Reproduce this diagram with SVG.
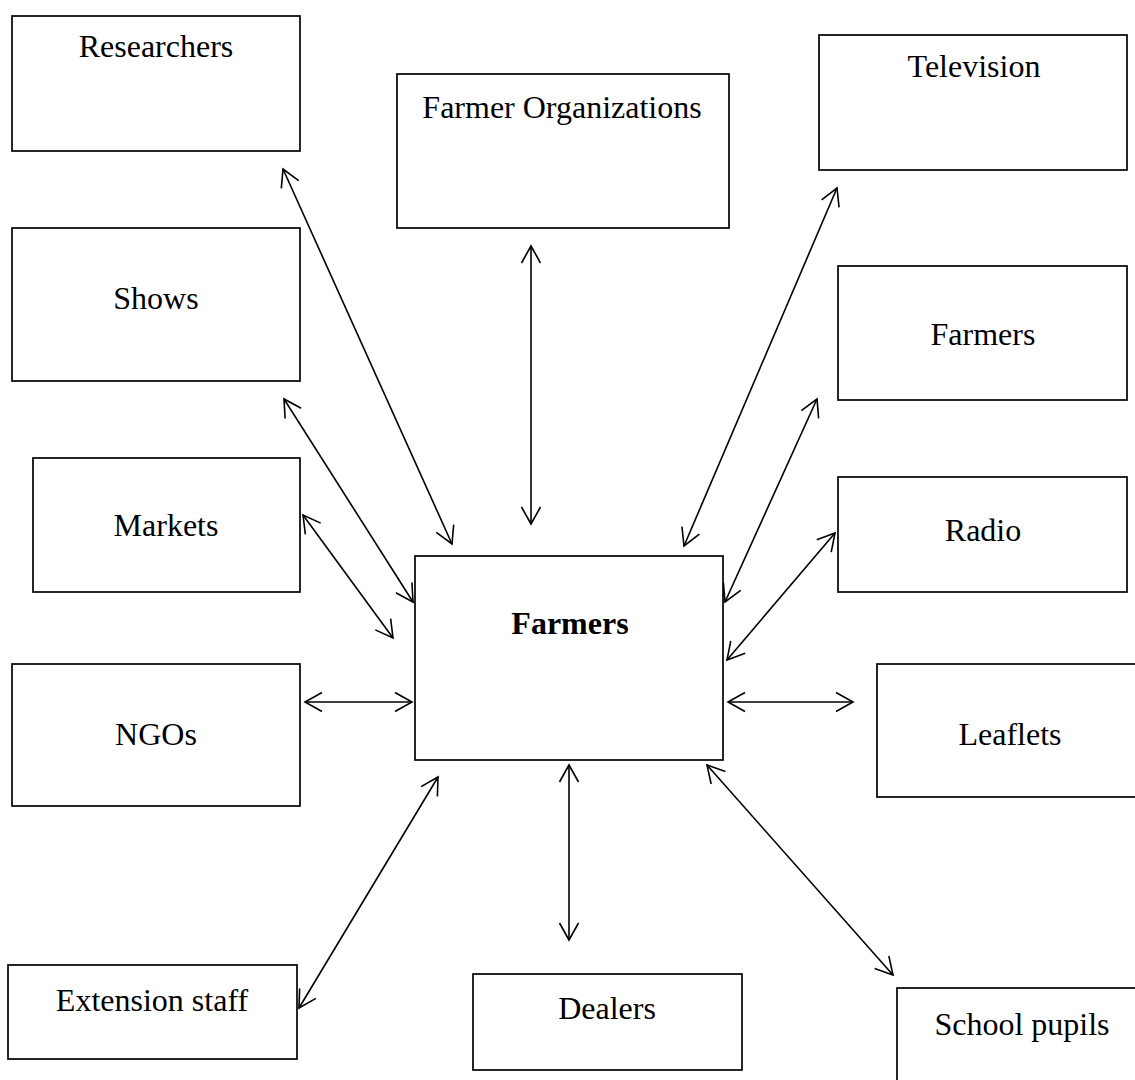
<svg xmlns="http://www.w3.org/2000/svg" width="1135" height="1080" viewBox="0 0 1135 1080">
<style>
.box{fill:#fff;stroke:#000;stroke-width:1.7}
.lbl{font-family:"Liberation Serif","Times New Roman",serif;font-size:32px;fill:#000;text-anchor:middle}
.bold{font-weight:bold}
.con{stroke:#000;stroke-width:1.6;fill:none;marker-start:url(#ah);marker-end:url(#ah)}
</style>
<defs>
<marker id="ah" viewBox="-20 -12 22 24" refX="0" refY="0" markerWidth="22" markerHeight="24" markerUnits="userSpaceOnUse" orient="auto-start-reverse">
<path d="M-17,-9.5 L0,0 L-17,9.5" fill="none" stroke="#000" stroke-width="1.6"/>
</marker>
</defs>
<rect width="1135" height="1080" fill="#fff"/>
<g id="n-researchers"><rect class="box" x="12" y="16" width="288" height="135"/><text class="lbl" x="156" y="57">Researchers</text></g>
<g id="n-farmer-org"><rect class="box" x="397" y="74" width="332" height="154"/><text class="lbl" x="562" y="118">Farmer Organizations</text></g>
<g id="n-television"><rect class="box" x="819" y="35" width="308" height="135"/><text class="lbl" x="974" y="77">Television</text></g>
<g id="n-shows"><rect class="box" x="12" y="228" width="288" height="153"/><text class="lbl" x="156" y="309">Shows</text></g>
<g id="n-farmers-right"><rect class="box" x="838" y="266" width="289" height="134"/><text class="lbl" x="983" y="345">Farmers</text></g>
<g id="n-markets"><rect class="box" x="33" y="458" width="267" height="134"/><text class="lbl" x="166" y="536">Markets</text></g>
<g id="n-radio"><rect class="box" x="838" y="477" width="289" height="115"/><text class="lbl" x="983" y="541">Radio</text></g>
<g id="n-farmers-center"><rect class="box" x="415" y="556" width="308" height="204"/><text class="lbl bold" x="570" y="634">Farmers</text></g>
<g id="n-ngos"><rect class="box" x="12" y="664" width="288" height="142"/><text class="lbl" x="156" y="745">NGOs</text></g>
<g id="n-leaflets"><rect class="box" x="877" y="664" width="266" height="133"/><text class="lbl" x="1010" y="745">Leaflets</text></g>
<g id="n-extension"><rect class="box" x="8" y="965" width="289" height="94"/><text class="lbl" x="152" y="1011">Extension staff</text></g>
<g id="n-dealers"><rect class="box" x="473" y="974" width="269" height="96"/><text class="lbl" x="607" y="1019">Dealers</text></g>
<g id="n-school"><rect class="box" x="897" y="988" width="250" height="100"/><text class="lbl" x="1022" y="1035">School pupils</text></g>
<g id="connectors">
<line class="con" x1="283" y1="169" x2="452" y2="544"/>
<line class="con" x1="531" y1="246" x2="531" y2="524"/>
<line class="con" x1="837" y1="188" x2="684" y2="546"/>
<line class="con" x1="284" y1="399" x2="413" y2="602"/>
<line class="con" x1="817" y1="399" x2="725" y2="602"/>
<line class="con" x1="303" y1="515" x2="393" y2="638"/>
<line class="con" x1="835" y1="533" x2="727" y2="660"/>
<line class="con" x1="305" y1="702" x2="412" y2="702"/>
<line class="con" x1="728" y1="702" x2="853" y2="702"/>
<line class="con" x1="438" y1="777" x2="299" y2="1008"/>
<line class="con" x1="569" y1="765" x2="569" y2="940"/>
<line class="con" x1="707" y1="765" x2="893" y2="975"/>
</g>
</svg>
